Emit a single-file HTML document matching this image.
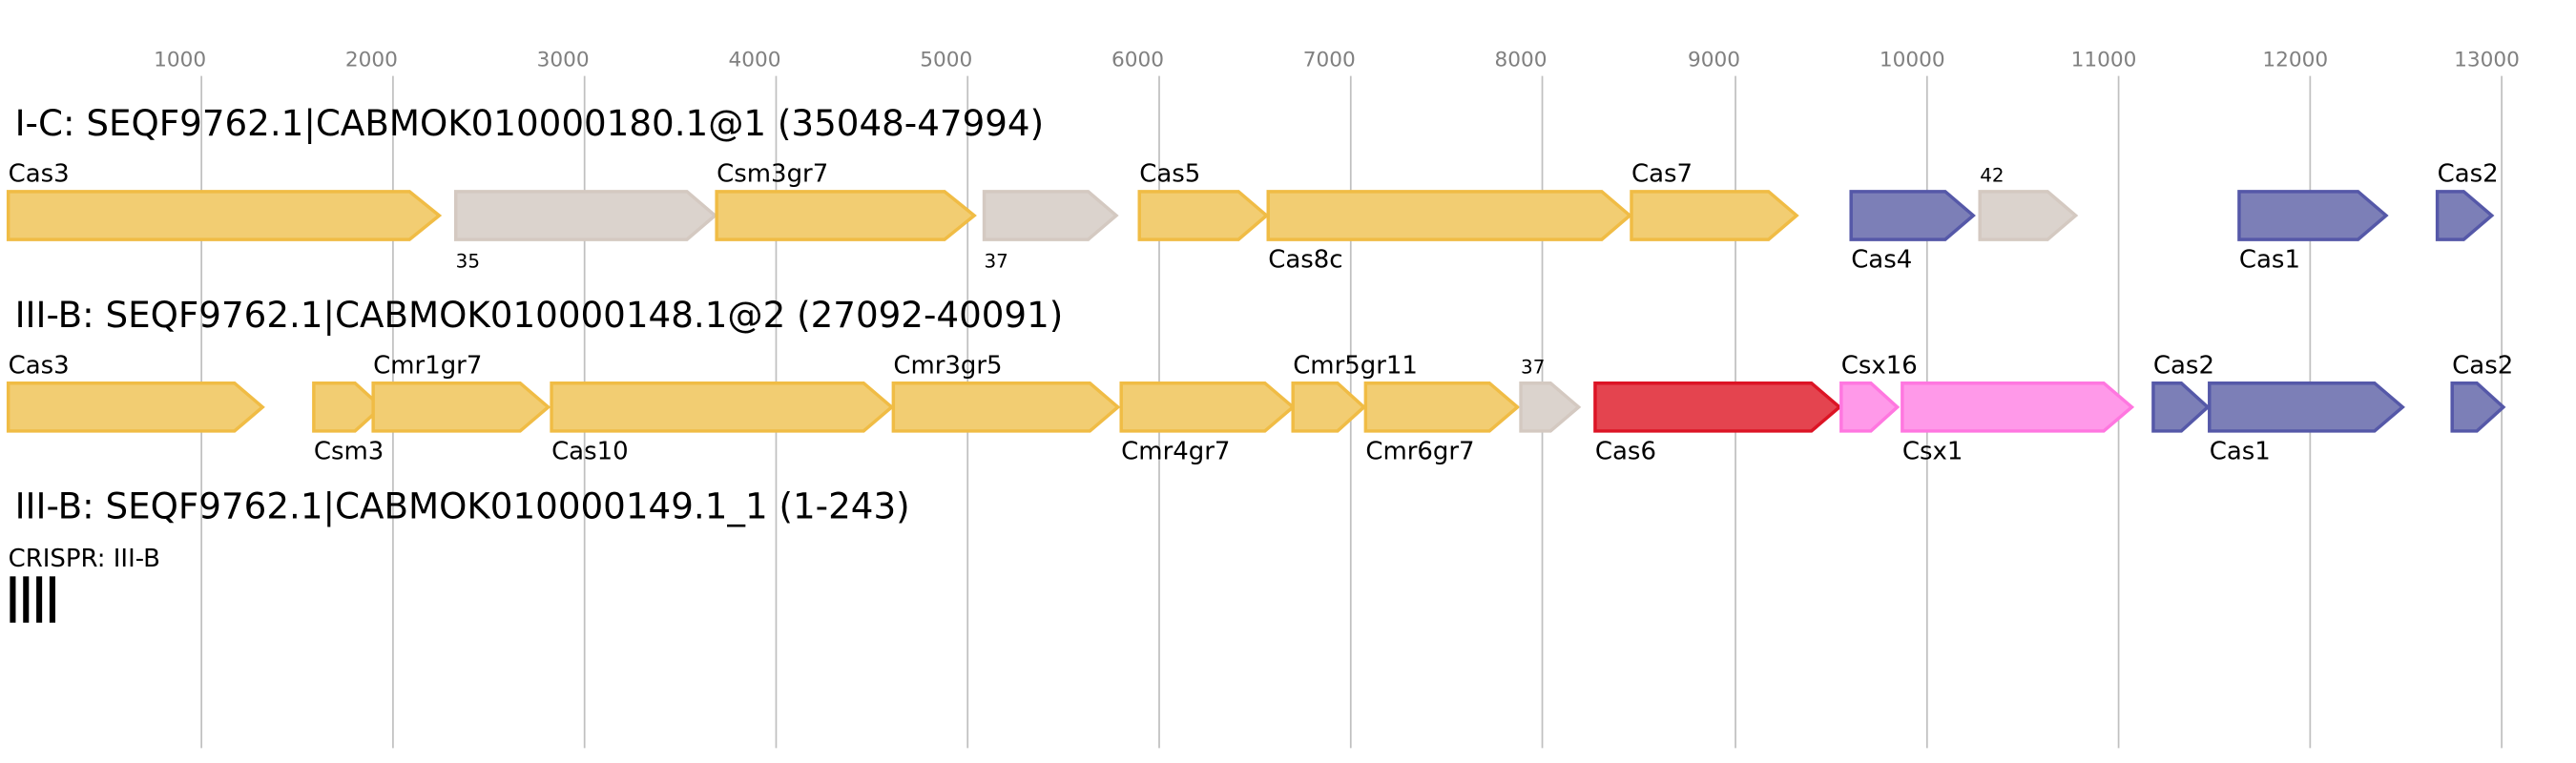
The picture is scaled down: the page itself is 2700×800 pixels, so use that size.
<!DOCTYPE html>
<html><head><meta charset="utf-8"><style>
html,body{margin:0;padding:0;background:#fff;}
svg{display:block;}
text{font-family:"DejaVu Sans","Liberation Sans",sans-serif;}
.ax{fill:#808080;font-size:12.5px;text-anchor:middle;}
.t{font-size:21.5px;fill:#000;}
.l{font-size:15px;fill:#000;}
.s{font-size:11.5px;fill:#000;}
.y{fill:#f2cd72;stroke:#f0bc45;stroke-width:2;}
.g{fill:#dbd3cd;stroke:#d4c9c1;stroke-width:2;}
.b{fill:#7c7fb7;stroke:#5558a8;stroke-width:2;}
.r{fill:#e4444f;stroke:#dc1425;stroke-width:2;}
.p{fill:#ff99e9;stroke:#ff77e0;stroke-width:2;}
</style></head><body>
<svg width="2700" height="800" viewBox="0 0 1560 462" preserveAspectRatio="none" xmlns="http://www.w3.org/2000/svg">
<g stroke="#c0c0c0" stroke-width="1">
<line x1="122" y1="46" x2="122" y2="453"/><line x1="238" y1="46" x2="238" y2="453"/><line x1="354" y1="46" x2="354" y2="453"/><line x1="470" y1="46" x2="470" y2="453"/><line x1="586" y1="46" x2="586" y2="453"/><line x1="702" y1="46" x2="702" y2="453"/><line x1="818" y1="46" x2="818" y2="453"/><line x1="934" y1="46" x2="934" y2="453"/><line x1="1051" y1="46" x2="1051" y2="453"/><line x1="1167" y1="46" x2="1167" y2="453"/><line x1="1283" y1="46" x2="1283" y2="453"/><line x1="1399" y1="46" x2="1399" y2="453"/><line x1="1515" y1="46" x2="1515" y2="453"/>
</g>
<g class="ax">
<text x="109" y="40">1000</text><text x="225" y="40">2000</text><text x="341" y="40">3000</text><text x="457" y="40">4000</text><text x="573" y="40">5000</text><text x="689" y="40">6000</text><text x="805" y="40">7000</text><text x="921" y="40">8000</text><text x="1038" y="40">9000</text><text x="1158" y="40">10000</text><text x="1274" y="40">11000</text><text x="1390" y="40">12000</text><text x="1506" y="40">13000</text>
</g>
<text class="t" x="9" y="82">I-C: SEQF9762.1|CABMOK010000180.1@1 (35048-47994)</text>
<polygon class="y" points="5,116 248,116 266,130.5 248,145 5,145"/>
<polygon class="g" points="276,116 416,116 433,130.5 416,145 276,145"/>
<polygon class="y" points="434,116 572,116 590,130.5 572,145 434,145"/>
<polygon class="g" points="596,116 659,116 676,130.5 659,145 596,145"/>
<polygon class="y" points="690,116 750,116 767,130.5 750,145 690,145"/>
<polygon class="y" points="768,116 970,116 987,130.5 970,145 768,145"/>
<polygon class="y" points="988,116 1071,116 1088,130.5 1071,145 988,145"/>
<polygon class="b" points="1121,116 1178,116 1195,130.5 1178,145 1121,145"/>
<polygon class="g" points="1199,116 1240,116 1257,130.5 1240,145 1199,145"/>
<polygon class="b" points="1356,116 1428,116 1445,130.5 1428,145 1356,145"/>
<polygon class="b" points="1476,116 1492,116 1509,130.5 1492,145 1476,145"/>
<text class="l" x="5" y="110">Cas3</text>
<text class="s" x="276" y="162">35</text>
<text class="l" x="434" y="110">Csm3gr7</text>
<text class="s" x="596" y="162">37</text>
<text class="l" x="690" y="110">Cas5</text>
<text class="l" x="768" y="162">Cas8c</text>
<text class="l" x="988" y="110">Cas7</text>
<text class="l" x="1121" y="162">Cas4</text>
<text class="s" x="1199" y="110">42</text>
<text class="l" x="1356" y="162">Cas1</text>
<text class="l" x="1476" y="110">Cas2</text>

<text class="t" x="9" y="198">III-B: SEQF9762.1|CABMOK010000148.1@2 (27092-40091)</text>
<polygon class="y" points="5,232 142,232 159,246.5 142,261 5,261"/>
<polygon class="y" points="190,232 215,232 231,246.5 215,261 190,261"/>
<polygon class="y" points="226,232 315,232 332,246.5 315,261 226,261"/>
<polygon class="y" points="334,232 523,232 540,246.5 523,261 334,261"/>
<polygon class="y" points="541,232 660,232 677,246.5 660,261 541,261"/>
<polygon class="y" points="679,232 766,232 783,246.5 766,261 679,261"/>
<polygon class="y" points="783,232 810,232 826,246.5 810,261 783,261"/>
<polygon class="y" points="827,232 902,232 919,246.5 902,261 827,261"/>
<polygon class="g" points="921,232 939,232 956,246.5 939,261 921,261"/>
<polygon class="r" points="966,232 1097,232 1114,246.5 1097,261 966,261"/>
<polygon class="p" points="1115,232 1133,232 1149,246.5 1133,261 1115,261"/>
<polygon class="p" points="1152,232 1274,232 1291,246.5 1274,261 1152,261"/>
<polygon class="b" points="1304,232 1321,232 1337,246.5 1321,261 1304,261"/>
<polygon class="b" points="1338,232 1438,232 1455,246.5 1438,261 1338,261"/>
<polygon class="b" points="1485,232 1500,232 1516,246.5 1500,261 1485,261"/>
<text class="l" x="5" y="226">Cas3</text>
<text class="l" x="190" y="278">Csm3</text>
<text class="l" x="226" y="226">Cmr1gr7</text>
<text class="l" x="334" y="278">Cas10</text>
<text class="l" x="541" y="226">Cmr3gr5</text>
<text class="l" x="679" y="278">Cmr4gr7</text>
<text class="l" x="783" y="226">Cmr5gr11</text>
<text class="l" x="827" y="278">Cmr6gr7</text>
<text class="s" x="921" y="226">37</text>
<text class="l" x="966" y="278">Cas6</text>
<text class="l" x="1115" y="226">Csx16</text>
<text class="l" x="1152" y="278">Csx1</text>
<text class="l" x="1304" y="226">Cas2</text>
<text class="l" x="1338" y="278">Cas1</text>
<text class="l" x="1485" y="226">Cas2</text>

<text class="t" x="9" y="314">III-B: SEQF9762.1|CABMOK010000149.1_1 (1-243)</text>
<text class="l" x="5" y="343">CRISPR: III-B</text>
<g fill="#000"><rect x="6" y="349" width="3.5" height="28"/><rect x="14" y="349" width="3.5" height="28"/><rect x="22" y="349" width="3.5" height="28"/><rect x="30" y="349" width="3.5" height="28"/></g>
</svg>
</body></html>
